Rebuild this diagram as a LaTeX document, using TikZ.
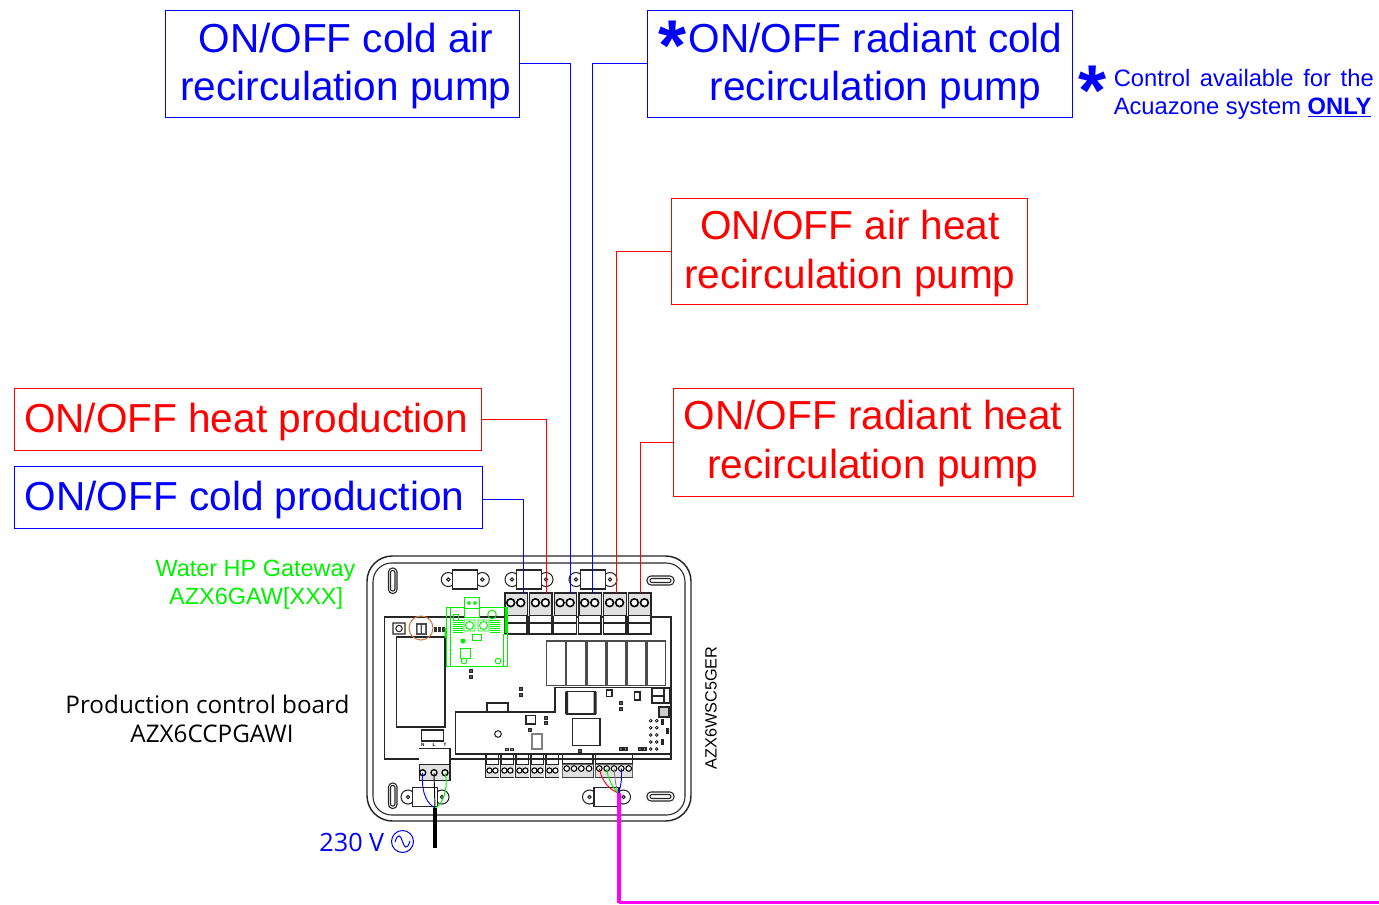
\documentclass[tikz,border=0pt]{standalone}
\usepackage{fontspec}
\setmainfont{Liberation Sans}
\newfontfamily\boardfont{Open Sans}
\definecolor{figblue}{RGB}{0,0,255}
\definecolor{figred}{RGB}{255,0,0}
\definecolor{figgreen}{RGB}{0,240,0}
\definecolor{figpink}{RGB}{255,0,255}
\definecolor{figorange}{RGB}{205,120,70}
\tikzset{
  figbox/.style={draw, inner sep=0pt, line width=0.75pt},
  figboxblue/.style={figbox, draw=figblue},
  figboxred/.style={figbox, draw=figred},
  figtext/.style={align=center, inner sep=0pt},
  figtextbig/.style={figtext, font=\fontsize{30.4}{36.7}\selectfont},
  figstar/.style={inner sep=0pt, text=figblue, font=\fontsize{54}{54}\selectfont\bfseries},
  wireblue/.style={figblue, line width=0.7pt},
  wirered/.style={figred, line width=0.7pt},
  figline/.style={line width=0.8pt, black!85},
  figthick/.style={line width=1.1pt, black!85},
  figgate/.style={figgreen, line width=0.7pt},
}
\newcommand{\figclip}[2]{% clip centred on (#1,#2)
  \draw[figline] (#1-17,#2) circle (7) (#1+17,#2) circle (7);
  \draw[figline, fill=white] (#1-12.5,#2-9.5) rectangle (#1+12.5,#2+9.5);
  \draw[figline] (#1-17,#2) circle (1.7) (#1+17,#2) circle (1.7);
}
\newcommand{\figpad}[2]{\fill[black!85] (#1-2.2,#2-1.8) rectangle (#1+2.2,#2+1.8);\fill[white] (#1,#2) circle (0.7);}
\begin{document}
\begin{tikzpicture}[x=0.75pt,y=-0.75pt]
	\useasboundingbox (0,0) rectangle (1379,904);

	% Labels around the board
	\node[figboxblue, minimum width=265.5pt, minimum height=80pt] (coldair) at (342,63.7) {};
	\node[figtextbig, text=figblue] (coldairtext) at (346,66) {ON/OFF cold air\\recirculation pump};
	\node[figboxblue, minimum width=318.5pt, minimum height=80pt] (radcold) at (860,63.7) {};
	\node[figtextbig, text=figblue] (radcoldtext) at (875.5,66) {ON/OFF radiant cold\\recirculation pump};
	\node[figstar] (radstar) at (673,45.5) {*};
	\node[figstar] (notestar) at (1092.5,90.5) {*};
	\node[figtext, text=figblue, anchor=west, align=left, font=\fontsize{17.8}{21}\selectfont] (note) at (1113.5,94.5) {\makebox[195pt][s]{Control available for the}\\Acuazone system \underline{\textbf{ONLY}}};
	\node[figboxred, minimum width=266.5pt, minimum height=79.5pt] (airheat) at (849.5,251) {};
	\node[figtextbig, text=figred] (airheattext) at (850,253.3) {ON/OFF air heat\\recirculation pump};
	\node[figboxred, minimum width=300pt, minimum height=81pt] (radheat) at (873,442) {};
	\node[figtextbig, text=figred] (radheattext) at (873,443.5) {ON/OFF radiant heat\\recirculation pump};
	\node[figboxred, minimum width=350.5pt, minimum height=46pt] (heatprod) at (248,419.5) {};
	\node[figtextbig, text=figred] (heatprodtext) at (246,422) {ON/OFF heat production};
	\node[figboxblue, minimum width=351pt, minimum height=46pt] (coldprod) at (248.5,497.5) {};
	\node[figtextbig, text=figblue] (coldprodtext) at (244.5,500) {ON/OFF cold production};
	\node[figtext, text=figgreen, font=\fontsize{17.6}{21}\selectfont] (gateway) at (255.5,585) {Water HP Gateway\\\hspace*{1pt}AZX6GAW[XXX]};
	\node[figtext, font=\boardfont\fontsize{18.2}{21.6}\selectfont] (ctrlboard) at (207.5,719) {Production control board\\\hspace*{6.75pt}AZX6CCPGAWI};
	\node[figtext, text=figblue, anchor=east, font=\boardfont\fontsize{18.9}{21}\selectfont] (volt) at (384.5,842) {230 V};
	\node[figtext, rotate=90, font=\fontsize{12.2}{14}\selectfont] (model) at (711,708) {AZX6WSC5GER};

	% Housing and slots
	\draw[figthick, rounded corners=19pt] (367,556) rectangle (691,821);
	\draw[figline, rounded corners=14pt] (373,563) rectangle (685,815);
	\foreach \sloty in {568,783} {
		\draw[figline, rounded corners=3pt] (388.5,\sloty) rectangle (397,\sloty+25.5);
		\draw[figline, rounded corners=1.5pt] (390.5,\sloty+2.5) rectangle (395,\sloty+23);
	}
	\foreach \sloty in {576,792} {
		\draw[figline, rounded corners=3pt] (647,\sloty) rectangle (674,\sloty+9);
		\draw[figline, rounded corners=1.5pt] (650,\sloty+2.5) rectangle (671,\sloty+6.5);
	}
	\figclip{465.3}{579.5}
	\figclip{529}{579.5}
	\figclip{593}{579.5}
	\figclip{425}{797}
	\figclip{606.5}{797}

	% Board, transformer, relays
	\draw[figline] (384.5,617) rectangle (671,759);
	\draw[figline, fill=white] (396.5,637) rectangle (445,727);
	\draw[figline] (393,623) rectangle (405,634) (399,628.5) circle (3.2);
	\fill[black!70] (415.5,623) rectangle (427,635);
	\fill[white] (417.5,625) rectangle (420.5,633) (422,625) rectangle (425,633);
	\draw[figorange, line width=0.8pt] (421,628) circle (12);
	\foreach \padx in {435,439,443} \fill[black!80] (\padx-1.5,627) rectangle (\padx+1.5,632);
	\foreach \relayx in {546.7,566.7,587,607,627,647} \draw[figthick, black!70] (\relayx,641) rectangle (\relayx+18.7,685.7);
	\draw[figline, fill=white] (455.7,754) -- (455.7,712) -- (555,712) -- (555,687.5) -- (671,687.5) -- (671,754) -- cycle;

	% Parts on the board
	\draw[figthick] (566.5,691.5) rectangle (595.5,714);
	\fill[black!85] (565,691.5) rectangle (568,714) (593.5,691.5) rectangle (596.5,714);
	\draw[figline] (572.5,718.5) rectangle (600,745.5);
	\draw[figthick, line width=1.5pt] (486.7,712) -- (486.7,703) -- (508,703) -- (508,712);
	\draw[figline] (498,734) circle (3.3);
	\draw[figline, gray] (532,734) rectangle (542,749);
	\draw[figthick] (526,715.5) rectangle (535.5,724);
	\draw[figthick] (652,688.5) rectangle (670,703) (652,696) -- (664,696) (664,688.5) -- (664,703);
	\draw[figline, fill=gray!40] (659,707) rectangle (669,717);
	\draw[figthick] (634.5,692) rectangle (640,700);
	\draw[figline] (606.5,690) rectangle (612,696.5);
	\foreach \doty in {720.7,727.7,735,742,749} \draw[line width=0.5pt] (650.7,\doty) circle (1.4) (656.7,\doty) circle (1.4);
	\foreach \parta/\partb in {662/722,667/731,662/742} \fill[black!85] (\parta-1.5,\partb-3) rectangle (\parta+1.5,\partb+3);
	\foreach \parta/\partb in {471/671,471/677,521/689,521/695,621/703,621/709,546/718,546/723,530/730,507/749.3,512/749.3,621/749,625.5/749,640/749,644.5/749,580/751} {\figpad{\parta}{\partb}}

	% Top terminals
	\foreach \i/\termx in {1/504.3,2/529,3/553.7,4/578.3,5/603.2,6/628} {
		\node[draw=black!85, line width=0.9pt, fill=black!12, minimum width=16.8pt, minimum height=31pt, inner sep=0pt, anchor=north west] (term\i) at (\termx,592.7) {};
		\draw[black!85, line width=1.6pt] (term\i.north west) -- (term\i.north east);
		\fill[white] (\termx,615.7) rectangle (\termx+22.4,634);
		\draw[figline] (\termx,615.7) -- (\termx+22.4,615.7) (\termx,623) -- (\termx+22.4,623);
		\draw[figline] (\termx,615.7) -- (\termx,634) -- (\termx+22.4,634) -- (\termx+22.4,615.7);
		\draw[line width=1.2pt, fill=white] (\termx+6.4,602.7) circle (3.9) (\termx+16.4,602.7) circle (3.9);
	}

	% Bottom terminals
	\foreach \termx in {486,501,516,531,546} {
		\draw[figline] (\termx,754) rectangle (\termx+12.8,777.7) (\termx,765) -- (\termx+12.8,765);
		\fill[black!12] (\termx,765.4) rectangle (\termx+12.8,777.3);
		\draw[line width=0.8pt, fill=white] (\termx+3.4,770.5) circle (2.6) (\termx+9.4,770.5) circle (2.6);
	}
	\draw[figline] (562.7,754) rectangle (593,777.5) (562.7,764) -- (593,764);
	\draw[figline] (595.7,754) rectangle (632.3,777.5) (595.7,764) -- (632.3,764);
	\fill[black!12] (562.7,764.5) rectangle (593,777) (595.7,764.5) rectangle (632.3,777);
	\foreach \pinx in {566.7,574,581.3,589,599.3,606.7,614,621.3,628.7} \draw[line width=0.8pt, fill=white] (\pinx,768.5) circle (2.8);

	% Power terminal
	\draw[figthick] (421.7,730) rectangle (443.3,741);
	\node[draw=black!85, line width=0.9pt, fill=black!12, minimum width=23pt, minimum height=24pt, inner sep=0pt, anchor=north west] (power) at (418.7,748) {};
	\draw[figline] (418.7,764) -- (449.3,764);
	\fill[white] (419.2,748.5) rectangle (448.8,763.5);
	\foreach \pinx/\pinname in {422.7/pinN,434/pinL,445/pinT} {
		\draw[line width=1pt, fill=white] (\pinx,772.7) circle (3);
		\coordinate (\pinname) at (\pinx,772.7);
	}
	\foreach \pinx/\pinname in {422.7/N,434/L,445/T} \node[inner sep=0pt, font=\fontsize{3.5}{4}\selectfont\bfseries] (mark\pinname) at (\pinx,745) {\pinname};

	% Gateway
	\draw[figgate] (446,607) rectangle (507,666) (450,607) -- (450,666);
	\draw[figgate, fill=white] (464.5,597.5) rectangle (479.5,617) (464.5,608) -- (479.5,608);
	\draw[figgate] (469,603) circle (1.4) (475,603) circle (1.4);
	\draw[figgate] (464,620) rectangle (475,631) (469.5,625.5) circle (4);
	\draw[figgate] (478,620) rectangle (489,631) (483.5,625.5) circle (4);
	\draw[figgate] (492,614.5) circle (4.3);
	\foreach \combx in {453,490} {
		\foreach \comby in {620,622,...,632} \draw[figgreen, line width=0.5pt] (\combx,\comby) -- (\combx+9.5,\comby);
	}
	\draw[figgate] (453,614) rectangle (458,620);
	\draw[figgate] (472,634.5) rectangle (481,640);
	\fill[figgreen] (463,641) circle (2.5);
	\draw[figgate] (460,648) rectangle (470,658);
	\draw[figgate] (464,661) circle (2.8) (498,661) circle (2.8);
	\fill[figgreen] (504.5,607) rectangle (507,633) (444.5,628) rectangle (447,638);
	\draw[figgate] (503,634) rectangle (507,666);

	% Named ends of the wires
	\coordinate (pinA) at (523,592.7);
	\coordinate (pinB) at (546,592.7);
	\coordinate (pinC) at (570,592.7);
	\coordinate (pinD) at (592.5,592.7);
	\coordinate (pinE) at (616,592.7);
	\coordinate (pinF) at (640,592.7);
	\coordinate (powerjoin) at (435,808);
	\coordinate (powerend) at (435,848);
	\coordinate (busjoin) at (618.5,793);
	\coordinate (busdown) at (618.5,902.7);
	\coordinate (busend) at (1379,902.7);
	\foreach \pinname/\pinx in {pinR/599.3,pinG/606.7,pinY/614,pinK/621.3} \coordinate (\pinname) at (\pinx,768.5);

	% Wires from the labels
	\draw[wireblue] ([yshift=-1.1pt]coldprod.east) -| (pinA);
	\draw[wirered] (heatprod.east) -| (pinB);
	\draw[wireblue] (coldair.east) -| (pinC);
	\draw[wireblue] (radcold.west) -| (pinD);
	\draw[wirered] (airheat.west) -| (pinE);
	\draw[wirered] (radheat.west) -| (pinF);

	% Power and bus cables
	\draw[figblue, line width=0.7pt] (pinN) .. controls (421,795) and (428,804) .. (powerjoin);
	\draw[black, line width=0.7pt] (pinL) -- (powerjoin);
	\draw[figgreen, line width=0.7pt] (pinT) .. controls (449,790) and (442,805) .. (powerjoin);
	\draw[black, line width=3pt] (powerjoin) -- (powerend);
	\draw[figred, line width=0.7pt] (pinR) .. controls (602,782) and (610,790) .. (busjoin);
	\draw[figgreen, line width=0.7pt] (pinG) .. controls (608,780) and (613,788) .. (busjoin);
	\draw[gray, line width=0.7pt] (pinY) .. controls (615,780) and (616,788) .. (busjoin);
	\draw[figblue, line width=0.7pt] (pinK) .. controls (622,780) and (621,786) .. (busjoin);
	\draw[figpink, line width=3pt] (busjoin) -- (busdown);
	\draw[figpink, line width=2pt] (busdown) -- (busend);

	% Mains symbol
	\node[draw=figblue, circle, line width=0.75pt, minimum size=16.5pt, inner sep=0pt] (mains) at (402.5,841.5) {};
	\draw[figblue, line width=0.75pt] (395,842) .. controls (398,832) and (401,836) .. (402.5,841.5) .. controls (404,847) and (407,851) .. (410,841);
\end{tikzpicture}
\end{document}
